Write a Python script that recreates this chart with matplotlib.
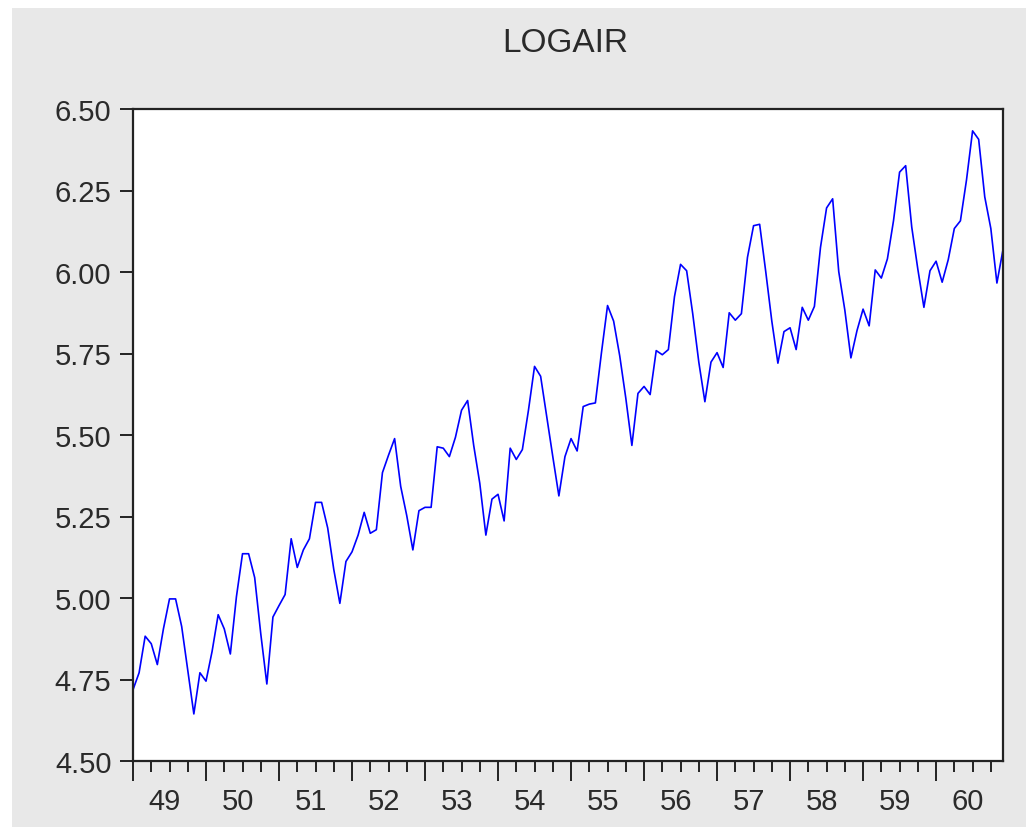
import matplotlib.pyplot as plt
import numpy as np
from matplotlib.patches import Rectangle
from matplotlib.ticker import FixedLocator

# monthly airline passengers (thousands), Jan 1949 - Dec 1960
air = [
    112, 118, 132, 129, 121, 135, 148, 148, 136, 119, 104, 118,
    115, 126, 141, 135, 125, 149, 170, 170, 158, 133, 114, 140,
    145, 150, 178, 163, 172, 178, 199, 199, 184, 162, 146, 166,
    171, 180, 193, 181, 183, 218, 230, 242, 209, 191, 172, 194,
    196, 196, 236, 235, 229, 243, 264, 272, 237, 211, 180, 201,
    204, 188, 235, 227, 234, 264, 302, 293, 259, 229, 203, 229,
    242, 233, 267, 269, 270, 315, 364, 347, 312, 274, 237, 278,
    284, 277, 317, 313, 318, 374, 413, 405, 355, 306, 271, 306,
    315, 301, 356, 348, 355, 422, 465, 467, 404, 347, 305, 336,
    340, 318, 362, 348, 363, 435, 491, 505, 404, 359, 310, 337,
    360, 342, 406, 396, 420, 472, 548, 559, 463, 407, 362, 405,
    417, 391, 419, 461, 472, 535, 622, 606, 508, 461, 390, 432,
]
years = ['49', '50', '51', '52', '53', '54', '55', '56', '57', '58', '59', '60']
y_ticks = [4.50, 4.75, 5.00, 5.25, 5.50, 5.75, 6.00, 6.25, 6.50]

logair = np.log(air)
months = np.arange(len(logair))

plt.rcParams['font.family'] = ['Liberation Sans', 'DejaVu Sans']
W, H = 1026, 828
fig = plt.figure(figsize=(W / 100, H / 100), dpi=100, facecolor='white')
# grey panel, white strip on top and left
fig.patches.append(Rectangle((12 / W, 0), 1 - 12 / W, 1 - 9 / H,
                             transform=fig.transFigure, facecolor='#e8e8e8',
                             edgecolor='none', zorder=-10))

ax = fig.add_axes([133 / W, (H - 762) / H, 870 / W, 652 / H])
ax.set_facecolor('white')
ax.plot(months, logair, color='#0000ff', lw=1.2)

ax.set_xlim(0, len(logair) - 1)
ax.set_ylim(4.5, 6.5)
ax.set_yticks(y_ticks)
ax.set_yticklabels(['%.2f' % v for v in y_ticks])

ax.set_xticks(np.arange(0, len(logair), 12))
ax.set_xticklabels([])
ax.xaxis.set_minor_locator(FixedLocator(np.arange(0, len(logair), 3)))
ax.tick_params(axis='x', which='major', direction='out', length=14.5, width=1.4, color='#222222')
ax.tick_params(axis='x', which='minor', direction='out', length=8, width=1.4, color='#222222')
ax.tick_params(axis='y', direction='out', length=9.5, width=1.4, color='#222222',
               labelsize=21, pad=6, labelcolor='#2a2a2a')

for i, yr in enumerate(years):
    ax.text(12 * i + 5.25, -0.0613, yr, transform=ax.get_xaxis_transform(),
            ha='center', va='center', fontsize=21, color='#2a2a2a')

for s in ax.spines.values():
    s.set_linewidth(1.6)
    s.set_color('#222222')

fig.text((502 + 628) / 2 / W, 1 - 44 / H, 'LOGAIR', ha='center', va='center',
         fontsize=24, color='#2a2a2a')

fig.savefig('out.png', dpi=100, facecolor=fig.get_facecolor())
